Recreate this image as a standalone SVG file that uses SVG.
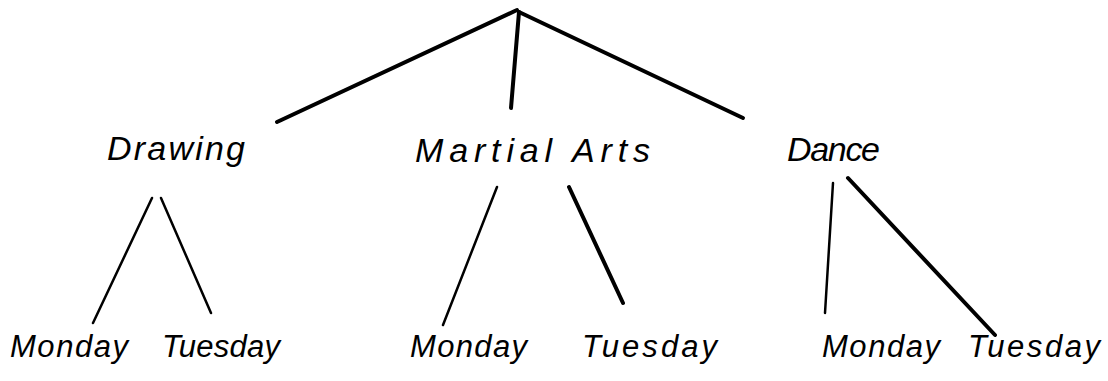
<svg xmlns="http://www.w3.org/2000/svg" width="1108" height="381" viewBox="0 0 1108 381">
<style>
.lbl{font-family:"Liberation Sans","DejaVu Sans",sans-serif;font-style:italic;font-size:31px;fill:#000;}
.top{font-size:34px;}
.thick{stroke:#000;stroke-width:4;stroke-linecap:round;fill:none;}
.thin{stroke:#000;stroke-width:2.5;stroke-linecap:round;fill:none;}
</style>
<rect width="1108" height="381" fill="#fff"/>
<g id="connectors">
<path class="thick" d="M517,10 L277,122"/>
<path class="thick" d="M519,12 L511,108"/>
<path class="thick" d="M519,12 L743,118"/>
<path class="thin" d="M152,198 L93,323"/>
<path class="thin" d="M161,198 L211,313"/>
<path class="thin" d="M497,187 L443,325"/>
<path class="thick" d="M569,187 L623,303"/>
<path class="thin" d="M833,183 L825,313"/>
<path class="thick" d="M848,178 L995,335"/>
</g>
<g id="drawing"><text class="lbl top" x="107" y="160" textLength="138" lengthAdjust="spacing">Drawing</text></g>
<g id="martial-arts"><text class="lbl top" x="415" y="162" textLength="235" lengthAdjust="spacing">Martial Arts</text></g>
<g id="dance"><text class="lbl top" x="787" y="161" textLength="93" lengthAdjust="spacing">Dance</text></g>
<g id="drawing-monday"><text class="lbl" x="10" y="357" textLength="118" lengthAdjust="spacing">Monday</text></g>
<g id="drawing-tuesday"><text class="lbl" x="162" y="357" textLength="118" lengthAdjust="spacing">Tuesday</text></g>
<g id="martial-monday"><text class="lbl" x="410" y="357" textLength="117" lengthAdjust="spacing">Monday</text></g>
<g id="martial-tuesday"><text class="lbl" x="582" y="357" textLength="135" lengthAdjust="spacing">Tuesday</text></g>
<g id="dance-monday"><text class="lbl" x="822" y="357" textLength="118" lengthAdjust="spacing">Monday</text></g>
<g id="dance-tuesday"><text class="lbl" x="968" y="357" textLength="132" lengthAdjust="spacing">Tuesday</text></g>
</svg>
